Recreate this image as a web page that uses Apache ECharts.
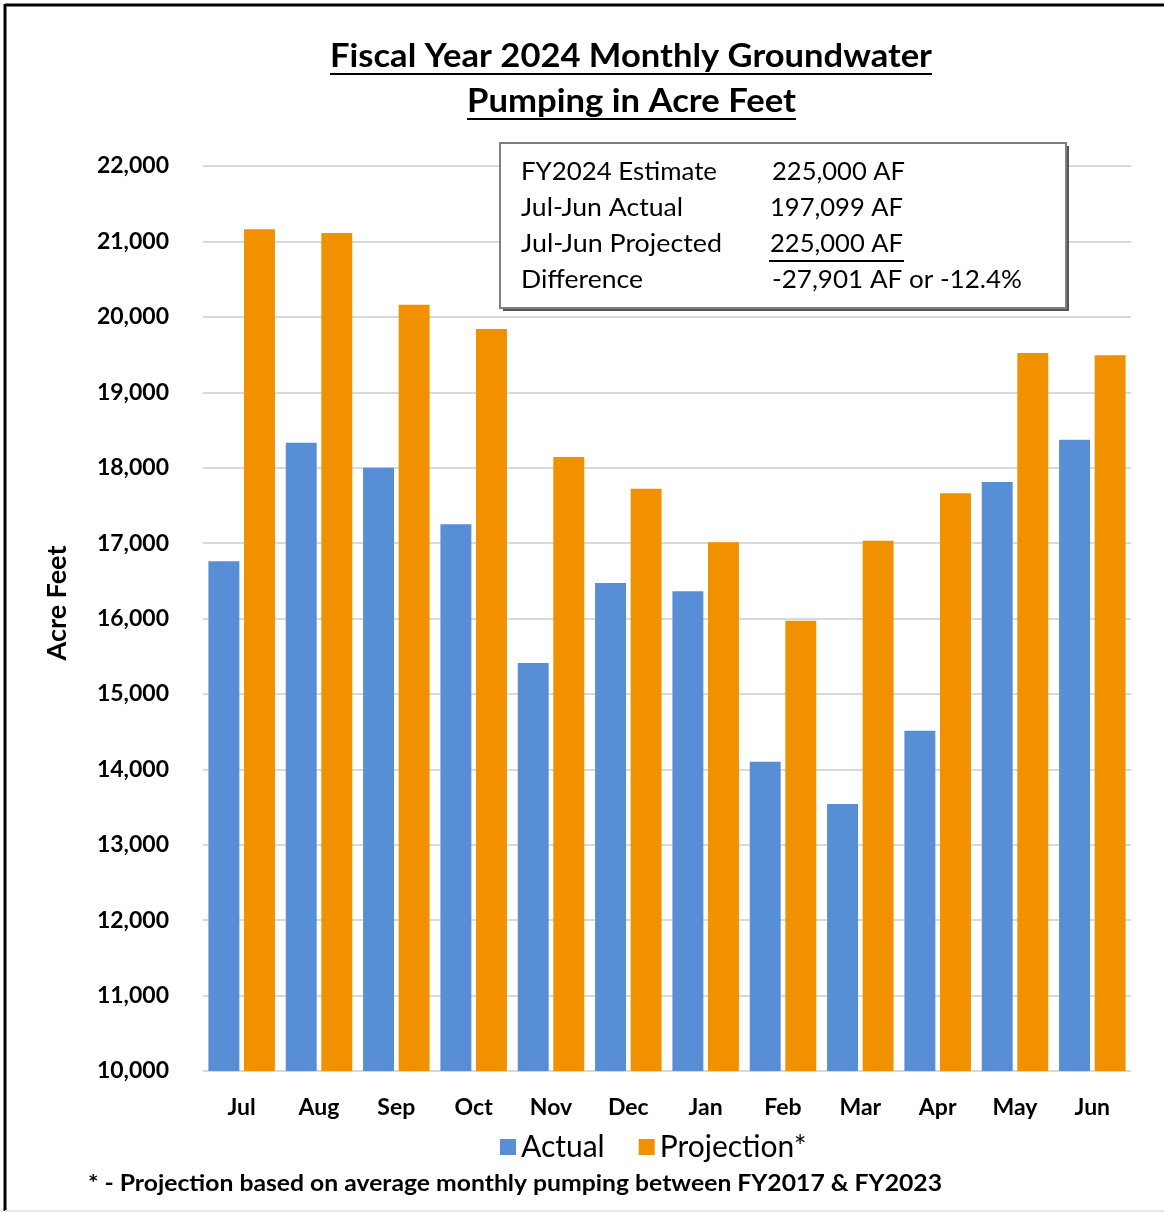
<!DOCTYPE html>
<html><head><meta charset="utf-8">
<script src="https://cdn.jsdelivr.net/npm/echarts@6/dist/echarts.min.js"></script>
<style>html,body{margin:0;padding:0;background:#fff}#c{width:1164px;height:1213px}</style>
</head><body><div id="c"></div>
<script>
const months = ['Jul','Aug','Sep','Oct','Nov','Dec','Jan','Feb','Mar','Apr','May','Jun'];
const actual = [16760,18330,18000,17250,15410,16470,16360,14100,13540,14510,17810,18370];
const projection = [21160,21110,20160,19840,18140,17720,17010,15970,17030,17660,19520,19490];
const titleLines = ['Fiscal Year 2024 Monthly Groundwater','Pumping in Acre Feet'];
const boxLabels = ['FY2024 Estimate','Jul-Jun Actual','Jul-Jun Projected','Difference'];
const boxValues = ['225,000 AF','197,099 AF','225,000 AF','-27,901 AF or -12.4%'];
const footnote = '* - Projection based on average monthly pumping between FY2017 & FY2023';
const FONT = 'Lato, "Open Sans", sans-serif';

const mctx = document.createElement('canvas').getContext('2d');
function tw(text, font){ mctx.font = font; return mctx.measureText(text).width; }
// stretched text helper: fits text into a target width
function fitText(text, x, y, font, targetW, align, extra){
  const w = tw(text, font);
  const s = targetW / w;
  return Object.assign({type:'text', x:x, y:y, scaleX:s, originX:0, originY:0,
    style:{text:text, font:font, fill:'#000', align:align||'left', verticalAlign:'middle'}}, extra||{});
}

const chart = echarts.init(document.getElementById('c'), null, {renderer:'canvas'});
const TF = 'bold 32px '+FONT;
const graphics = [
  {type:'line', shape:{x1:5,y1:5,x2:1164,y2:5}, style:{stroke:'#000',lineWidth:3}},
  {type:'line', shape:{x1:5,y1:4,x2:5,y2:1211}, style:{stroke:'#000',lineWidth:3}},
  {type:'line', shape:{x1:5,y1:1211,x2:1164,y2:1211}, style:{stroke:'#e6e6e6',lineWidth:2}},
  // title (stretched to the reference width)
  fitText(titleLines[0], 330, 57, TF, 602),
  {type:'line', shape:{x1:330,y1:74,x2:932,y2:74}, style:{stroke:'#000',lineWidth:2}},
  fitText(titleLines[1], 467, 102, TF, 329),
  {type:'line', shape:{x1:467,y1:119,x2:796,y2:119}, style:{stroke:'#000',lineWidth:2}},
  // text box
  {type:'rect', shape:{x:503,y:146,width:566,height:165}, style:{fill:'#555'}, z:10},
  {type:'rect', shape:{x:500,y:143,width:566,height:165}, style:{fill:'#fff',stroke:'#7f7f7f',lineWidth:2}, z:11},
  {type:'line', shape:{x1:769,y1:261,x2:904,y2:261}, style:{stroke:'#000',lineWidth:2}, z:12},
  // y-axis name
  {type:'text', x:57, y:603, rotation:Math.PI/2, style:{text:'Acre Feet', font:'bold 27px '+FONT, fill:'#000', align:'center', verticalAlign:'middle'}},
  // footnote
  fitText(footnote, 88, 1184, 'bold 22px '+FONT, 854)
];
const BF = '25px '+FONT;
const labelW = [196, 162, 201, 122];
const valueW = [133, 133, 133, 250];
const valueX = [772, 770, 770, 772];
boxLabels.forEach((t,i)=>{
  graphics.push(fitText(t, 521, 172+i*36, BF, labelW[i], 'left', {z:12}));
  graphics.push(fitText(boxValues[i], valueX[i], 172+i*36, BF, valueW[i], 'left', {z:12}));
});

chart.setOption({
  animation:false,
  backgroundColor:'#fff',
  grid:{left:203, right:33, top:166, bottom:142},
  legend:{
    data:['Actual','Projection*'], left:495, top:1127, icon:'rect', itemWidth:16, itemHeight:16, itemGap:34,
    textStyle:{fontFamily:FONT, fontSize:30, color:'#000'}
  },
  xAxis:{
    type:'category', data:months,
    axisLine:{show:false}, axisTick:{show:false},
    axisLabel:{fontFamily:FONT, fontWeight:'bold', fontSize:23, color:'#000', margin:25}
  },
  yAxis:{
    type:'value', min:10000, max:22000, interval:1000,
    axisLabel:{fontFamily:FONT, fontWeight:'bold', fontSize:23, color:'#000', margin:34,
      formatter:v=>v.toLocaleString('en-US')},
    splitLine:{lineStyle:{color:'#d9d9d9', width:2}},
    axisLine:{show:false}, axisTick:{show:false}
  },
  series:[
    {name:'Actual', type:'bar', data:actual, barGap:'15%', barCategoryGap:'14%', itemStyle:{color:'#578ED6'}},
    {name:'Projection*', type:'bar', data:projection, itemStyle:{color:'#F29100'}}
  ],
  graphic:graphics
});
</script></body></html>
